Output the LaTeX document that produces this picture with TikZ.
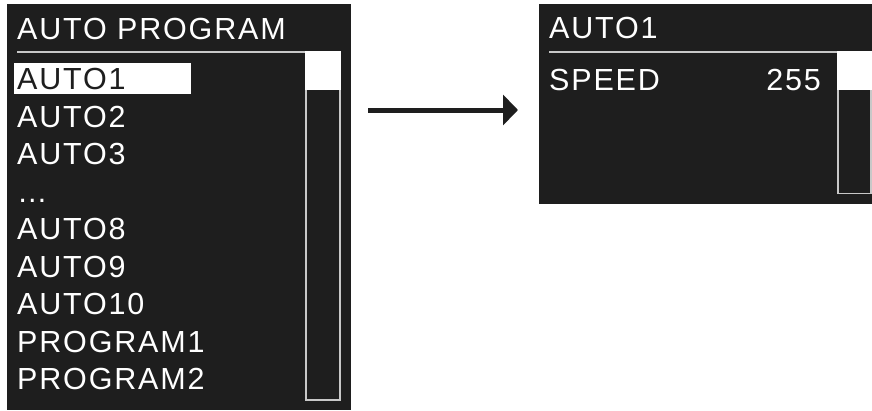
\documentclass[tikz,border=0pt]{standalone}
\usepackage{fontspec}
\setmainfont{Liberation Sans}[LetterSpace=6]
\usetikzlibrary{arrows.meta}
\definecolor{panelbg}{HTML}{1E1E1E}
\definecolor{rulegray}{HTML}{C8C8C8}
\tikzset{
  panel/.style={fill=panelbg, draw=none},
  lcdtext/.style={anchor=base west, inner sep=0pt, text=white, font=\fontsize{30.5}{36}\selectfont},
  seltext/.style={lcdtext, text=panelbg},
  sepline/.style={draw=rulegray, line width=2pt},
  scrollframe/.style={draw=rulegray, line width=1.6pt, fill=panelbg},
  thumb/.style={fill=white, draw=none},
  selbar/.style={fill=white, draw=none},
  flowarrow/.style={draw=panelbg, line width=5pt, -{Triangle[length=15pt, width=30pt]}}
}
\begin{document}
\begin{tikzpicture}[x=1pt,y=-1pt]
\useasboundingbox (0,0) rectangle (872,410);
% left panel
\fill[panel] (7,4) rectangle (351,410);
\node[lcdtext] (ltitle) at (17,39) {AUTO PROGRAM};
\draw[sepline] (17,52) -- (305,52);
\draw[scrollframe] (305.8,52) rectangle (339.8,400);
\fill[thumb] (305,51) rectangle (340.6,90);
\fill[selbar] (14,63) rectangle (191,94);
\node[seltext] (a1) at (17,89) {AUTO1};
\node[lcdtext] (a2) at (17,127) {AUTO2};
\node[lcdtext] (a3) at (17,164.5) {AUTO3};
\node[lcdtext] (dots) at (17,202) {…};
\node[lcdtext] (a8) at (17,239.5) {AUTO8};
\node[lcdtext] (a9) at (17,277) {AUTO9};
\node[lcdtext] (a10) at (17,314.5) {AUTO10};
\node[lcdtext] (p1) at (17,352) {PROGRAM1};
\node[lcdtext] (p2) at (17,389.5) {PROGRAM2};
% right panel
\fill[panel] (539,4) rectangle (872,204);
\node[lcdtext] (rtitle) at (549,38) {AUTO1};
\draw[sepline] (549,52) -- (837,52);
\draw[scrollframe] (837.8,52) rectangle (871,193.5);
\fill[thumb] (837,51) rectangle (872,90);
\node[lcdtext] (speed) at (549,90.5) {SPEED};
\node[lcdtext, anchor=base east] (val) at (821,90.5) {255};
% arrow
\coordinate (astart) at (368,110);
\coordinate (aend) at (518,110);
\draw[flowarrow] (astart) -- (aend);
\end{tikzpicture}
\end{document}
